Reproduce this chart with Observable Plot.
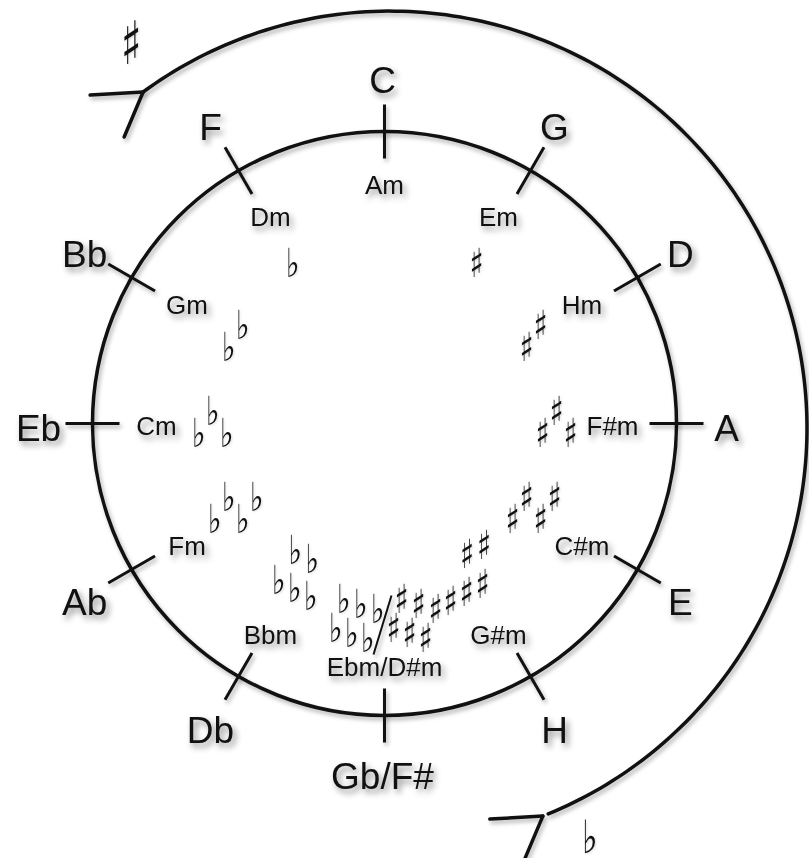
<!DOCTYPE html>
<html><head><meta charset="utf-8">
<script src="https://cdn.jsdelivr.net/npm/d3@7"></script>
<script src="https://cdn.jsdelivr.net/npm/@observablehq/plot@0.6"></script>
<style>body{margin:0;background:#fff}#chart svg{display:block}</style>
</head><body><div id="chart"></div>
<script>
// ---- data ----
const majorKeys = ["C","G","D","A","E","H","Gb/F#","Db","Ab","Eb","Bb","F"];
const minorKeys = ["Am","Em","Hm","F#m","C#m","G#m","Ebm/D#m","Bbm","Fm","Cm","Gm","Dm"];
const sharpCounts = [0,1,2,3,4,5,6,0,0,0,0,0];
const flatCounts  = [0,0,0,0,0,0,6,5,4,3,2,1];
const spiralSymbols = ["♯","♭"];

// ---- geometry helpers ----
const W = 809, H = 858, CX = 384, CY = 423;
const R = 292;
const rad = d => d * Math.PI / 180;
const polar = (r, deg, ox = 0, oy = 0) => ({x: ox + r * Math.sin(rad(deg)), y: oy + r * Math.cos(rad(deg))});
const ellip = (rx, ry, deg, ox = 0, oy = 0) => ({x: ox + rx * Math.sin(rad(deg)), y: oy + ry * Math.cos(rad(deg))});
const angleOf = i => i * 30;

const majors = majorKeys.map((k, i) => ({text: k, ...ellip(344, 348, angleOf(i), -2, -6)}));
const minors = minorKeys.map((k, i) => ({text: k, ...ellip(228, 241, angleOf(i), 0, -3)}));
const ticks = majorKeys.map((k, i) => {
  const a = polar(265, angleOf(i)), b = polar(319, angleOf(i));
  return {x1: a.x, y1: a.y, x2: b.x, y2: b.y};
});

// cluster layout of accidental glyphs (screen offsets, y down)
function layout(n, deg) {
  let pts = [];
  if (n === 1) return [[0, 0]];
  if (n <= 4) {
    for (let i = 0; i < n; i++) pts.push([(i - (n - 1) / 2) * 14, (i % 2 === 0 ? 1 : -1) * 11]);
  } else if (n === 5) {
    const slope = Math.tan(rad(deg)) * 0.9;
    for (let j = 0; j < 2; j++) { const dx = (j - 0.5) * 17 + 5; pts.push([dx, -19 + dx * slope]); }
    for (let j = 0; j < 3; j++) { const dx = (j - 1) * 16 - 4; pts.push([dx, 19 + dx * slope]); }
  } else {
    for (let j = 0; j < 3; j++) { const dx = (j - 1) * 17 + 5; pts.push([dx, -16 + dx * 0.3]); }
    for (let j = 0; j < 3; j++) { const dx = (j - 1) * 16 - 4; pts.push([dx, 16 + dx * 0.3]); }
  }
  return pts;
}
const accs = [];
majorKeys.forEach((k, i) => {
  const deg = angleOf(i);
  [["♯", sharpCounts[i], 1], ["♭", flatCounts[i], -1]].forEach(([g, n, s]) => {
    if (!n) return;
    let c = polar(i === 6 ? 196 : (n === 1 ? 184 : 172), deg);
    if (i === 6) c = {x: c.x + s * 29, y: c.y};
    layout(n, deg).forEach(([dx, dy]) => accs.push({text: g, x: c.x + dx, y: c.y - dy}));
  });
});
const slashC = polar(198, angleOf(6));
const slash = [{x1: slashC.x + 7, y1: slashC.y + 26, x2: slashC.x - 11, y2: slashC.y - 33}];

// outer spiral arc
const SC = {x: 5.5, y: -4.6}, SR = 417, A0 = -36.3, A1 = 158.5;
const arc = d3.range(A0, A1 + 0.01, 1).map(d => polar(SR, d, SC.x, SC.y));
const pStart = polar(SR, A0, SC.x, SC.y), pEnd = polar(SR, A1, SC.x, SC.y);
const feathers = [pStart, pEnd].flatMap(p => [
  {x1: p.x, y1: p.y, x2: p.x - 53, y2: p.y - 3},
  {x1: p.x, y1: p.y, x2: p.x - 19, y2: p.y - 45}
]);
const endSymbols = [
  {text: spiralSymbols[0], x: pStart.x - 12, y: pStart.y + 47, size: 60},
  {text: spiralSymbols[1], x: pEnd.x + 47, y: pEnd.y - 22, size: 46}
];

const ink = "#111";
const chart = Plot.plot({
  width: W, height: H, margin: 0,
  x: {domain: [-CX, W - CX], axis: null},
  y: {domain: [-(H - CY), CY], axis: null},
  marks: [
    Plot.dot([{x: 0, y: 0}], {x: "x", y: "y", r: R, fill: "none", stroke: ink, strokeWidth: 3.5}),
    Plot.link(ticks, {x1: "x1", y1: "y1", x2: "x2", y2: "y2", stroke: ink, strokeWidth: 3}),
    Plot.line(arc, {x: "x", y: "y", stroke: ink, strokeWidth: 3.5}),
    Plot.link(feathers, {x1: "x1", y1: "y1", x2: "x2", y2: "y2", stroke: ink, strokeWidth: 3.5, strokeLinecap: "round"}),
    Plot.text(majors, {x: "x", y: "y", text: "text", fontSize: 37, fontFamily: "Liberation Sans, Arial, sans-serif", fill: ink}),
    Plot.text(minors, {x: "x", y: "y", text: "text", fontSize: 26, fontFamily: "Liberation Sans, Arial, sans-serif", fill: ink}),
    Plot.text(accs, {x: "x", y: "y", text: "text", fontSize: 40, fontFamily: "DejaVu Sans, sans-serif", fill: ink}),
    Plot.link(slash, {x1: "x1", y1: "y1", x2: "x2", y2: "y2", stroke: ink, strokeWidth: 2}),
    Plot.text(endSymbols, {x: "x", y: "y", text: "text", fontSize: "size", fontFamily: "DejaVu Sans, sans-serif", fill: ink})
  ]
});
document.getElementById("chart").appendChild(chart);
const texts = chart.querySelectorAll('g[aria-label="text"]');
[texts[0], texts[1]].forEach(g => g && g.setAttribute("style", "filter: drop-shadow(3px 4px 3px rgba(0,0,0,0.45))"));
[texts[2], texts[3]].forEach(g => {
  if (!g) return;
  g.setAttribute("style", "filter: drop-shadow(1px 1px 1px rgba(0,0,0,0.15))");
  g.querySelectorAll("text").forEach(el => {
    const b = el.getBBox();
    const cx = b.x + b.width / 2, cy = b.y + b.height / 2;
    const t = el.getAttribute("transform") || "";
    el.setAttribute("transform", `${t} translate(${cx},${cy}) scale(0.72,1) translate(${-cx},${-cy})`);
  });
});
chart.querySelectorAll('g[aria-label="dot"], g[aria-label="link"], g[aria-label="line"]').forEach(g =>
  g.setAttribute("style", "filter: drop-shadow(2px 3px 2px rgba(0,0,0,0.3))"));
</script>
</body></html>
